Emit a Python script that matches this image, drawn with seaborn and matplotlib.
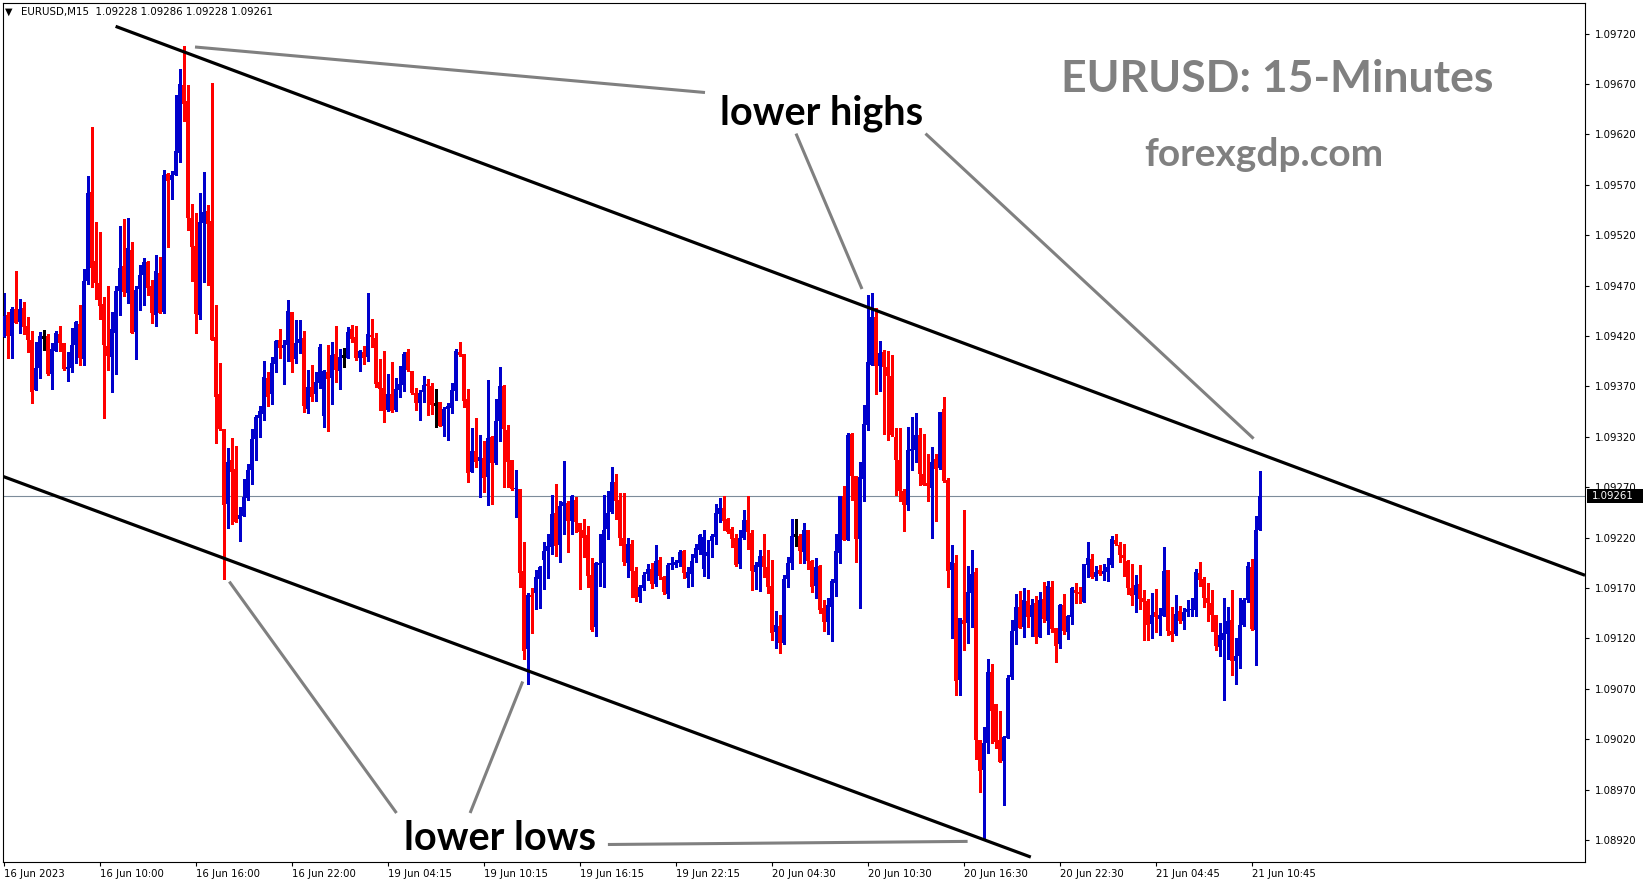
import numpy as np
import matplotlib
matplotlib.use("Agg")
import matplotlib.pyplot as plt
from matplotlib.lines import Line2D
from matplotlib.patches import Rectangle
import seaborn as sns

# ---------------- data (EURUSD M15 candles) ----------------
opens = [
    1.09419, 1.09441, 1.09420, 1.09447, 1.09434, 1.09448, 1.09430, 1.09416, 1.09366, 1.09388,
    1.09419, 1.09420, 1.09382, 1.09405, 1.09422, 1.09413, 1.09387, 1.09388, 1.09411, 1.09432,
    1.09397, 1.09475, 1.09563, 1.09494, 1.09473, 1.09452, 1.09410, 1.09399, 1.09423, 1.09465,
    1.09489, 1.09463, 1.09505, 1.09424, 1.09467, 1.09481, 1.09493, 1.09470, 1.09441, 1.09483,
    1.09444, 1.09581, 1.09575, 1.09580, 1.09602, 1.09669, 1.09653, 1.09537, 1.09509, 1.09441,
    1.09532, 1.09544, 1.09534, 1.09419, 1.09362, 1.09328, 1.09253, 1.09297, 1.09288, 1.09238,
    1.09241, 1.09259, 1.09287, 1.09318, 1.09339, 1.09343, 1.09378, 1.09362, 1.09392, 1.09416,
    1.09408, 1.09411, 1.09444, 1.09397, 1.09413, 1.09418, 1.09348, 1.09369, 1.09362, 1.09373,
    1.09341, 1.09384, 1.09378, 1.09402, 1.09385, 1.09400, 1.09398, 1.09427, 1.09419, 1.09398,
    1.09404, 1.09399, 1.09421, 1.09418, 1.09374, 1.09368, 1.09347, 1.09362, 1.09347, 1.09366,
    1.09371, 1.09404, 1.09385, 1.09363, 1.09354, 1.09364, 1.09372, 1.09370, 1.09353, 1.09355,
    1.09331, 1.09348, 1.09349, 1.09365, 1.09404, 1.09402, 1.09358, 1.09285, 1.09306, 1.09296,
    1.09299, 1.09280, 1.09320, 1.09294, 1.09336, 1.09370, 1.09327, 1.09297, 1.09268, 1.09268,
    1.09187, 1.09109, 1.09163, 1.09165, 1.09179, 1.09198, 1.09207, 1.09211, 1.09244, 1.09213,
    1.09251, 1.09254, 1.09236, 1.09257, 1.09234, 1.09228, 1.09223, 1.09183, 1.09131, 1.09193,
    1.09195, 1.09229, 1.09245, 1.09275, 1.09257, 1.09220, 1.09195, 1.09214, 1.09187, 1.09161,
    1.09170, 1.09184, 1.09189, 1.09174, 1.09198, 1.09181, 1.09164, 1.09193, 1.09193, 1.09195,
    1.09207, 1.09180, 1.09184, 1.09200, 1.09208, 1.09189, 1.09202, 1.09217, 1.09221, 1.09243,
    1.09249, 1.09238, 1.09229, 1.09220, 1.09194, 1.09220, 1.09237, 1.09225, 1.09186, 1.09191,
    1.09202, 1.09191, 1.09172, 1.09126, 1.09132, 1.09115, 1.09179, 1.09195, 1.09223, 1.09222,
    1.09206, 1.09228, 1.09197, 1.09172, 1.09192, 1.09150, 1.09136, 1.09151, 1.09175, 1.09205,
    1.09261, 1.09218, 1.09323, 1.09281, 1.09219, 1.09278, 1.09332, 1.09391, 1.09439, 1.09390,
    1.09404, 1.09389, 1.09380, 1.09320, 1.09297, 1.09266, 1.09252, 1.09306, 1.09307, 1.09322,
    1.09283, 1.09274, 1.09269, 1.09298, 1.09289, 1.09348, 1.09277, 1.09188, 1.09195, 1.09079,
    1.09138, 1.09135, 1.09165, 1.09186, 1.09019, 1.08989, 1.09016, 1.09087, 1.09055, 1.09019,
    1.08998, 1.09021, 1.09082, 1.09127, 1.09151, 1.09131, 1.09157, 1.09141, 1.09155, 1.09121,
    1.09159, 1.09137, 1.09171, 1.09130, 1.09114, 1.09153, 1.09126, 1.09141, 1.09168, 1.09166,
    1.09156, 1.09193, 1.09199, 1.09181, 1.09188, 1.09184, 1.09186, 1.09193, 1.09218, 1.09213,
    1.09203, 1.09197, 1.09170, 1.09163, 1.09174, 1.09160, 1.09157, 1.09134, 1.09146, 1.09139,
    1.09142, 1.09188, 1.09127, 1.09124, 1.09147, 1.09137, 1.09146, 1.09148, 1.09148, 1.09185,
    1.09179, 1.09160, 1.09155, 1.09143, 1.09111, 1.09118, 1.09124, 1.09138, 1.09098, 1.09103,
    1.09133, 1.09158, 1.09191, 1.09128, 1.09228,
]

highs = [
    1.09463, 1.09444, 1.09449, 1.09485, 1.09457, 1.09454, 1.09439, 1.09425, 1.09414, 1.09424,
    1.09426, 1.09422, 1.09413, 1.09425, 1.09430, 1.09413, 1.09404, 1.09428, 1.09435, 1.09451,
    1.09487, 1.09579, 1.09627, 1.09533, 1.09523, 1.09459, 1.09470, 1.09444, 1.09470, 1.09529,
    1.09536, 1.09537, 1.09513, 1.09470, 1.09490, 1.09497, 1.09494, 1.09476, 1.09500, 1.09498,
    1.09585, 1.09582, 1.09584, 1.09659, 1.09685, 1.09708, 1.09669, 1.09551, 1.09542, 1.09562,
    1.09583, 1.09550, 1.09671, 1.09451, 1.09393, 1.09328, 1.09309, 1.09319, 1.09311, 1.09250,
    1.09278, 1.09293, 1.09328, 1.09342, 1.09351, 1.09395, 1.09384, 1.09399, 1.09416, 1.09427,
    1.09416, 1.09456, 1.09444, 1.09436, 1.09436, 1.09425, 1.09386, 1.09391, 1.09384, 1.09412,
    1.09386, 1.09411, 1.09414, 1.09430, 1.09407, 1.09408, 1.09429, 1.09431, 1.09430, 1.09406,
    1.09410, 1.09463, 1.09437, 1.09423, 1.09397, 1.09405, 1.09382, 1.09394, 1.09378, 1.09390,
    1.09404, 1.09407, 1.09385, 1.09368, 1.09366, 1.09380, 1.09377, 1.09373, 1.09367, 1.09355,
    1.09350, 1.09354, 1.09373, 1.09407, 1.09414, 1.09402, 1.09367, 1.09329, 1.09339, 1.09322,
    1.09316, 1.09376, 1.09321, 1.09358, 1.09389, 1.09371, 1.09332, 1.09297, 1.09287, 1.09268,
    1.09216, 1.09165, 1.09170, 1.09188, 1.09192, 1.09216, 1.09224, 1.09262, 1.09273, 1.09256,
    1.09296, 1.09256, 1.09262, 1.09260, 1.09234, 1.09238, 1.09232, 1.09200, 1.09196, 1.09224,
    1.09262, 1.09266, 1.09290, 1.09283, 1.09264, 1.09264, 1.09220, 1.09218, 1.09191, 1.09173,
    1.09186, 1.09194, 1.09195, 1.09213, 1.09201, 1.09182, 1.09195, 1.09201, 1.09198, 1.09208,
    1.09208, 1.09191, 1.09204, 1.09214, 1.09224, 1.09228, 1.09218, 1.09224, 1.09253, 1.09259,
    1.09261, 1.09239, 1.09231, 1.09224, 1.09228, 1.09247, 1.09261, 1.09228, 1.09196, 1.09208,
    1.09224, 1.09208, 1.09198, 1.09147, 1.09143, 1.09183, 1.09201, 1.09238, 1.09238, 1.09224,
    1.09234, 1.09228, 1.09198, 1.09200, 1.09193, 1.09158, 1.09160, 1.09179, 1.09224, 1.09261,
    1.09271, 1.09324, 1.09324, 1.09281, 1.09295, 1.09352, 1.09461, 1.09463, 1.09448, 1.09415,
    1.09406, 1.09405, 1.09401, 1.09329, 1.09329, 1.09268, 1.09330, 1.09340, 1.09344, 1.09329,
    1.09323, 1.09303, 1.09310, 1.09303, 1.09345, 1.09360, 1.09279, 1.09213, 1.09203, 1.09140,
    1.09247, 1.09192, 1.09208, 1.09190, 1.09019, 1.09032, 1.09100, 1.09095, 1.09055, 1.09048,
    1.09023, 1.09084, 1.09138, 1.09164, 1.09167, 1.09170, 1.09168, 1.09159, 1.09162, 1.09166,
    1.09176, 1.09177, 1.09177, 1.09130, 1.09154, 1.09164, 1.09143, 1.09171, 1.09175, 1.09171,
    1.09194, 1.09216, 1.09204, 1.09192, 1.09193, 1.09194, 1.09200, 1.09222, 1.09224, 1.09216,
    1.09214, 1.09198, 1.09194, 1.09183, 1.09193, 1.09168, 1.09159, 1.09165, 1.09169, 1.09150,
    1.09211, 1.09188, 1.09151, 1.09163, 1.09152, 1.09150, 1.09158, 1.09160, 1.09189, 1.09196,
    1.09181, 1.09175, 1.09168, 1.09143, 1.09135, 1.09160, 1.09151, 1.09168, 1.09120, 1.09160,
    1.09160, 1.09196, 1.09199, 1.09241, 1.09286,
]

lows = [
    1.09419, 1.09398, 1.09398, 1.09433, 1.09423, 1.09422, 1.09404, 1.09354, 1.09366, 1.09378,
    1.09406, 1.09381, 1.09367, 1.09405, 1.09405, 1.09386, 1.09375, 1.09384, 1.09393, 1.09391,
    1.09391, 1.09472, 1.09469, 1.09457, 1.09437, 1.09339, 1.09386, 1.09364, 1.09382, 1.09441,
    1.09460, 1.09453, 1.09423, 1.09397, 1.09446, 1.09451, 1.09461, 1.09433, 1.09430, 1.09443,
    1.09443, 1.09508, 1.09556, 1.09580, 1.09593, 1.09633, 1.09525, 1.09475, 1.09423, 1.09437,
    1.09474, 1.09471, 1.09416, 1.09314, 1.09327, 1.09179, 1.09230, 1.09233, 1.09235, 1.09217,
    1.09241, 1.09257, 1.09273, 1.09297, 1.09320, 1.09337, 1.09351, 1.09353, 1.09384, 1.09398,
    1.09372, 1.09395, 1.09384, 1.09393, 1.09403, 1.09345, 1.09344, 1.09356, 1.09356, 1.09368,
    1.09330, 1.09326, 1.09353, 1.09374, 1.09367, 1.09389, 1.09398, 1.09414, 1.09396, 1.09385,
    1.09392, 1.09395, 1.09409, 1.09369, 1.09347, 1.09335, 1.09346, 1.09345, 1.09346, 1.09360,
    1.09365, 1.09385, 1.09362, 1.09347, 1.09337, 1.09355, 1.09342, 1.09343, 1.09330, 1.09331,
    1.09321, 1.09317, 1.09344, 1.09357, 1.09400, 1.09350, 1.09275, 1.09285, 1.09290, 1.09260,
    1.09265, 1.09252, 1.09253, 1.09293, 1.09316, 1.09270, 1.09270, 1.09267, 1.09240, 1.09171,
    1.09100, 1.09075, 1.09125, 1.09149, 1.09150, 1.09169, 1.09180, 1.09204, 1.09202, 1.09196,
    1.09224, 1.09206, 1.09224, 1.09226, 1.09169, 1.09201, 1.09171, 1.09127, 1.09122, 1.09172,
    1.09171, 1.09219, 1.09244, 1.09238, 1.09213, 1.09193, 1.09181, 1.09161, 1.09157, 1.09156,
    1.09168, 1.09178, 1.09170, 1.09172, 1.09179, 1.09164, 1.09160, 1.09189, 1.09191, 1.09192,
    1.09180, 1.09171, 1.09172, 1.09196, 1.09204, 1.09182, 1.09180, 1.09201, 1.09214, 1.09235,
    1.09228, 1.09225, 1.09211, 1.09192, 1.09190, 1.09219, 1.09209, 1.09168, 1.09169, 1.09167,
    1.09181, 1.09165, 1.09118, 1.09110, 1.09105, 1.09114, 1.09171, 1.09189, 1.09212, 1.09195,
    1.09195, 1.09189, 1.09166, 1.09160, 1.09145, 1.09127, 1.09124, 1.09117, 1.09162, 1.09195,
    1.09218, 1.09218, 1.09257, 1.09196, 1.09150, 1.09256, 1.09327, 1.09391, 1.09362, 1.09365,
    1.09323, 1.09317, 1.09321, 1.09262, 1.09256, 1.09227, 1.09247, 1.09287, 1.09295, 1.09272,
    1.09272, 1.09256, 1.09220, 1.09236, 1.09288, 1.09275, 1.09171, 1.09120, 1.09064, 1.09064,
    1.09108, 1.09115, 1.09131, 1.09000, 1.08968, 1.08920, 1.09006, 1.09016, 1.09011, 1.08997,
    1.08955, 1.09021, 1.09080, 1.09114, 1.09130, 1.09121, 1.09131, 1.09122, 1.09115, 1.09121,
    1.09136, 1.09124, 1.09126, 1.09097, 1.09110, 1.09124, 1.09119, 1.09134, 1.09155, 1.09155,
    1.09156, 1.09181, 1.09180, 1.09178, 1.09183, 1.09178, 1.09177, 1.09191, 1.09213, 1.09196,
    1.09182, 1.09164, 1.09153, 1.09146, 1.09149, 1.09118, 1.09118, 1.09120, 1.09126, 1.09123,
    1.09142, 1.09123, 1.09117, 1.09123, 1.09135, 1.09129, 1.09142, 1.09142, 1.09142, 1.09172,
    1.09151, 1.09137, 1.09127, 1.09108, 1.09103, 1.09059, 1.09100, 1.09084, 1.09075, 1.09091,
    1.09132, 1.09156, 1.09128, 1.09094, 1.09228,
]

closes = [
    1.09440, 1.09420, 1.09447, 1.09433, 1.09447, 1.09429, 1.09416, 1.09364, 1.09388, 1.09420,
    1.09419, 1.09382, 1.09407, 1.09423, 1.09413, 1.09387, 1.09389, 1.09411, 1.09434, 1.09398,
    1.09475, 1.09562, 1.09488, 1.09473, 1.09450, 1.09411, 1.09400, 1.09427, 1.09465, 1.09488,
    1.09464, 1.09507, 1.09423, 1.09466, 1.09481, 1.09493, 1.09468, 1.09443, 1.09485, 1.09443,
    1.09580, 1.09574, 1.09580, 1.09604, 1.09670, 1.09650, 1.09537, 1.09508, 1.09442, 1.09533,
    1.09543, 1.09531, 1.09416, 1.09360, 1.09328, 1.09252, 1.09295, 1.09285, 1.09235, 1.09242,
    1.09260, 1.09287, 1.09318, 1.09340, 1.09346, 1.09379, 1.09360, 1.09393, 1.09415, 1.09408,
    1.09411, 1.09445, 1.09394, 1.09413, 1.09417, 1.09351, 1.09369, 1.09360, 1.09374, 1.09409,
    1.09385, 1.09377, 1.09401, 1.09386, 1.09399, 1.09400, 1.09424, 1.09417, 1.09398, 1.09405,
    1.09398, 1.09422, 1.09419, 1.09372, 1.09367, 1.09346, 1.09362, 1.09346, 1.09367, 1.09372,
    1.09402, 1.09386, 1.09363, 1.09354, 1.09363, 1.09371, 1.09370, 1.09352, 1.09353, 1.09331,
    1.09348, 1.09351, 1.09366, 1.09405, 1.09401, 1.09356, 1.09284, 1.09306, 1.09295, 1.09300,
    1.09279, 1.09319, 1.09294, 1.09336, 1.09370, 1.09328, 1.09295, 1.09268, 1.09269, 1.09185,
    1.09107, 1.09163, 1.09161, 1.09181, 1.09191, 1.09207, 1.09212, 1.09243, 1.09212, 1.09251,
    1.09255, 1.09236, 1.09261, 1.09235, 1.09226, 1.09220, 1.09182, 1.09128, 1.09195, 1.09195,
    1.09228, 1.09244, 1.09275, 1.09256, 1.09220, 1.09196, 1.09214, 1.09187, 1.09160, 1.09171,
    1.09183, 1.09189, 1.09174, 1.09197, 1.09182, 1.09166, 1.09193, 1.09195, 1.09196, 1.09206,
    1.09185, 1.09186, 1.09197, 1.09210, 1.09223, 1.09221, 1.09206, 1.09222, 1.09244, 1.09249,
    1.09236, 1.09226, 1.09219, 1.09193, 1.09220, 1.09237, 1.09226, 1.09187, 1.09193, 1.09202,
    1.09191, 1.09171, 1.09125, 1.09133, 1.09115, 1.09179, 1.09195, 1.09222, 1.09223, 1.09207,
    1.09228, 1.09197, 1.09171, 1.09191, 1.09148, 1.09136, 1.09153, 1.09177, 1.09207, 1.09261,
    1.09218, 1.09322, 1.09281, 1.09219, 1.09280, 1.09333, 1.09394, 1.09439, 1.09390, 1.09403,
    1.09389, 1.09380, 1.09322, 1.09297, 1.09266, 1.09252, 1.09307, 1.09308, 1.09322, 1.09283,
    1.09272, 1.09271, 1.09295, 1.09288, 1.09345, 1.09276, 1.09187, 1.09196, 1.09078, 1.09140,
    1.09134, 1.09166, 1.09184, 1.09019, 1.08988, 1.09016, 1.09087, 1.09048, 1.09017, 1.08997,
    1.09022, 1.09081, 1.09127, 1.09151, 1.09130, 1.09158, 1.09141, 1.09153, 1.09121, 1.09158,
    1.09139, 1.09172, 1.09129, 1.09112, 1.09153, 1.09127, 1.09142, 1.09170, 1.09165, 1.09164,
    1.09194, 1.09200, 1.09181, 1.09186, 1.09184, 1.09187, 1.09191, 1.09219, 1.09214, 1.09203,
    1.09200, 1.09170, 1.09162, 1.09173, 1.09159, 1.09156, 1.09133, 1.09143, 1.09141, 1.09143,
    1.09187, 1.09127, 1.09123, 1.09144, 1.09137, 1.09146, 1.09149, 1.09149, 1.09186, 1.09178,
    1.09160, 1.09155, 1.09143, 1.09112, 1.09123, 1.09125, 1.09137, 1.09098, 1.09103, 1.09133,
    1.09158, 1.09192, 1.09129, 1.09228, 1.09261,
]

time_labels = ["16 Jun 2023", "16 Jun 10:00", "16 Jun 16:00", "16 Jun 22:00",
               "19 Jun 04:15", "19 Jun 10:15", "19 Jun 16:15", "19 Jun 22:15",
               "20 Jun 04:30", "20 Jun 10:30", "20 Jun 16:30", "20 Jun 22:30",
               "21 Jun 04:45", "21 Jun 10:45"]
bars_per_label = 24

price_ticks = ["1.08920", "1.08970", "1.09020", "1.09070", "1.09120", "1.09170",
               "1.09220", "1.09270", "1.09320", "1.09370", "1.09420", "1.09470",
               "1.09520", "1.09570", "1.09620", "1.09670", "1.09720"]

current_price = 1.09261
header_text = "EURUSD,M15  1.09228 1.09286 1.09228 1.09261"

# ---------------- style ----------------
sns.set_theme(style="white")
plt.rcParams['font.family'] = ['DejaVu Sans']

W, H = 1649, 884
fig = plt.figure(figsize=(W / 100, H / 100), dpi=100)
fig.patch.set_facecolor("white")
ax = fig.add_axes([3 / W, 22 / H, 1582 / W, 859 / H])
ax.set_facecolor("white")

o = np.array(opens)
h = np.array(highs)
l = np.array(lows)
c = np.array(closes)
n = len(o)
x = np.arange(n)

BLUE = "#0000cc"
RED = "#ff0000"
colors = np.where(c > o, BLUE, np.where(c < o, RED, "#000000"))

ax.vlines(x, l, h, colors=colors, linewidth=0.8, antialiased=False, zorder=2)
ax.bar(x, np.abs(c - o), bottom=np.minimum(o, c), width=0.82, color=colors,
       linewidth=0, antialiased=False, zorder=3)
flat = c == o
ax.hlines(o[flat], x[flat] - 0.45, x[flat] + 0.45, colors="black",
          linewidth=0.8, antialiased=False, zorder=3)

# current price line
ax.axhline(current_price, color="#7d8c9a", linewidth=0.8, zorder=1)

# channel trend lines
ax.plot([28.0, 395.35], [1.097273, 1.091826], color="black", lw=2.3,
        solid_capstyle="butt", zorder=4)
ax.plot([-0.15, 256.8], [1.092807, 1.089030], color="black", lw=2.3,
        solid_capstyle="butt", zorder=4)

ax.set_xlim(-0.15, 395.35)
ax.set_ylim(1.0889811, 1.0975046)

# axes styling
for s in ax.spines.values():
    s.set_visible(True)
    s.set_color("black")
    s.set_linewidth(0.8)

ax.yaxis.tick_right()
ax.set_yticks([float(t) for t in price_ticks])
ax.set_yticklabels(price_ticks)
ax.tick_params(axis="y", which="both", direction="out", length=3, width=0.8,
               pad=4, labelsize=7.3, colors="black", right=True, left=False,
               labelright=True, labelleft=False)

ax.set_xticks(np.arange(0, len(time_labels) * bars_per_label, bars_per_label))
ax.set_xticklabels(time_labels, ha="left")
ax.tick_params(axis="x", which="both", direction="out", length=3, width=0.8,
               pad=2, labelsize=7.3, colors="black", bottom=True, top=False)
for lab in ax.get_xticklabels():
    lab.set_horizontalalignment("left")
ax.grid(False)


def fx(px):
    return px / W


def fy(py):
    return 1 - py / H


# price box on right scale
fig.add_artist(Rectangle((fx(1587), fy(503)), 56 / W, 14 / H,
                         transform=fig.transFigure, facecolor="black",
                         edgecolor="none", zorder=10))
fig.text(fx(1592), fy(496.3), "1.09261", color="white", fontsize=7.3,
         va="center", ha="left", zorder=11)

# header
fig.text(fx(4.5), fy(11.5), "\u25BC", fontsize=7, va="center", ha="left", color="black")
fig.text(fx(21), fy(12), header_text, fontsize=7.4, va="center", ha="left", color="black")

# annotation lines (gray)
GRAY = "#808080"
segments = [
    ((195, 47), (705, 92.5)),
    ((796, 133.6), (862, 289)),
    ((925.5, 133.6), (1253.6, 438.6)),
    ((229.3, 581.6), (396.5, 813)),
    ((470.1, 813), (522.7, 681.5)),
    ((607.9, 844.5), (967.6, 841.4)),
]
for (x0, y0), (x1, y1) in segments:
    fig.add_artist(Line2D([fx(x0), fx(x1)], [fy(y0), fy(y1)], transform=fig.transFigure,
                          color=GRAY, lw=2.2, solid_capstyle="butt", zorder=6))

# texts
fig.text(fx(1277.5), fy(91.7), "EURUSD: 15-Minutes", ha="center", va="baseline",
         fontsize=32, color=GRAY, family="Lato", fontweight="bold", zorder=7)
fig.text(fx(1263.4), fy(166), "forexgdp.com", ha="center", va="baseline",
         fontsize=28, color=GRAY, family="Lato", fontweight="bold", zorder=7)
fig.text(fx(822), fy(124), "lower highs", ha="center", va="baseline",
         fontsize=28.5, color="black", family="Lato", fontweight="bold", zorder=7)
fig.text(fx(500), fy(850), "lower lows", ha="center", va="baseline",
         fontsize=28.5, color="black", family="Lato", fontweight="bold", zorder=7)

fig.savefig("out.png", dpi=100, facecolor="white")
